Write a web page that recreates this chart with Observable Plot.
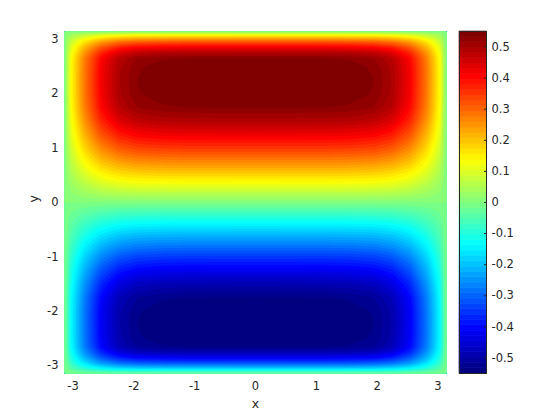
<!DOCTYPE html>
<html><head><meta charset="utf-8">
<script src="https://cdn.jsdelivr.net/npm/d3@7"></script>
<script src="https://cdn.jsdelivr.net/npm/@observablehq/plot@0.6"></script>
<style>
body{margin:0;background:#fff;}
#wrap{position:relative;width:560px;height:420px;font-family:"DejaVu Sans",sans-serif;}
#main,#cbar{position:absolute;top:0;}
#main{left:0;} #cbar{left:450px;}
</style>
</head><body><div id="wrap"><div id="main"></div><div id="cbar"></div></div>
<script>
// profile of the field along y (at x = 0)
const yPos = [-3.1416,-3.09,-3.03,-2.95,-2.85,-2.75,-2.65,-2.5,-2.25,-2.0,-1.75,-1.5,-1.25,-1.0,-0.75,-0.5,-0.25,0,
              0.25,0.5,0.75,1.0,1.25,1.5,1.75,2.0,2.25,2.5,2.65,2.75,2.85,2.95,3.03,3.09,3.1416];
const yVal = [0,-0.11,-0.21,-0.32,-0.42,-0.49,-0.535,-0.548,-0.553,-0.55,-0.535,-0.49,-0.425,-0.35,-0.265,-0.178,-0.09,0,
              0.09,0.178,0.265,0.35,0.425,0.49,0.535,0.55,0.553,0.548,0.535,0.49,0.42,0.32,0.21,0.11,0];
// relative profile along x (at the peak row)
const xPos = [-3.1416,-3.03,-2.82,-2.54,-2.24,-1.94,-1.54,-1.14,0,1.14,1.54,1.94,2.24,2.54,2.82,3.03,3.1416];
const xRel = [0,0.25,0.5,0.75,0.9,0.965,0.99,0.998,1,0.998,0.99,0.965,0.9,0.75,0.5,0.25,0];
const xTicks = [-3,-2,-1,0,1,2,3];
const yTicks = [-3,-2,-1,0,1,2,3];
const cbTicks = [-0.5,-0.4,-0.3,-0.2,-0.1,0,0.1,0.2,0.3,0.4,0.5];
const cLim = [-0.55, 0.55];

// jet colormap, 64 colours
const nC = 64;
const clamp = v => Math.max(0, Math.min(1, v));
const jet = d3.range(nC).map(k => {
  const t = k / (nC - 1);
  return d3.rgb(255*clamp(1.5-Math.abs(4*t-3)), 255*clamp(1.5-Math.abs(4*t-2)), 255*clamp(1.5-Math.abs(4*t-1))).formatHex();
});
const step = (cLim[1]-cLim[0]) / nC;
const levels = d3.range(nC).map(k => cLim[0] + k*step);
const colorScale = {type: "threshold", domain: levels.slice(1), range: jet};

// grid built from the two profiles
const fx = d3.scaleLinear().domain(xPos).range(xRel);
const fy = d3.scaleLinear().domain(yPos).range(yVal);
const N = 320, P = Math.PI;
const grid = [];
for (let j = 0; j < N; j++) {
  const y = -P + (j + 0.5) * 2*P / N;
  for (let i = 0; i < N; i++) {
    const x = -P + (i + 0.5) * 2*P / N;
    grid.push(fx(x) * fy(y));
  }
}
const fmt = d => String(Math.round(d*10)/10);
const ink = "#262626";

const main = Plot.plot({
  width: 450, height: 420,
  marginLeft: 64, marginRight: 4, marginTop: 31, marginBottom: 47,
  x: {domain: [-P, P]},
  y: {domain: [-P, P]},
  color: colorScale,
  style: {fontFamily: "DejaVu Sans", fontSize: "11.5px", color: ink, background: "white"},
  marks: [
    Plot.contour(grid, {width: N, height: N, x1: -P, x2: P, y1: -P, y2: P,
      thresholds: [-1, ...levels.slice(1)], fill: Plot.identity, stroke: "none"}),
    Plot.axisX({ticks: xTicks, tickFormat: fmt, tickSize: 0, tickPadding: 8, label: null}),
    Plot.axisY({ticks: yTicks, tickFormat: fmt, tickSize: 0, tickPadding: 6, label: null}),
    Plot.text(["x"], {frameAnchor: "bottom", dy: 34, fill: ink, fontSize: 12.5}),
    Plot.text(["y"], {frameAnchor: "left", dx: -31, rotate: -90, fill: ink, fontSize: 12.5})
  ]
});
document.getElementById("main").append(main);

const bins = levels.map(lo => ({lo, hi: lo + step}));
const cbar = Plot.plot({
  width: 110, height: 420,
  marginLeft: 9, marginRight: 74, marginTop: 31, marginBottom: 47,
  x: {domain: [0, 1], axis: null},
  y: {domain: cLim},
  color: colorScale,
  style: {fontFamily: "DejaVu Sans", fontSize: "11.5px", color: ink, background: "white"},
  marks: [
    Plot.rect(bins, {y1: "lo", y2: "hi", fill: "lo", stroke: "lo", strokeWidth: 0.6, inset: 0}),
    Plot.axisY({anchor: "right", ticks: cbTicks, tickFormat: fmt, tickSize: -3, tickPadding: 8, label: null}),
    Plot.frame({stroke: ink, strokeWidth: 1})
  ]
});
document.getElementById("cbar").append(cbar);
</script></body></html>
